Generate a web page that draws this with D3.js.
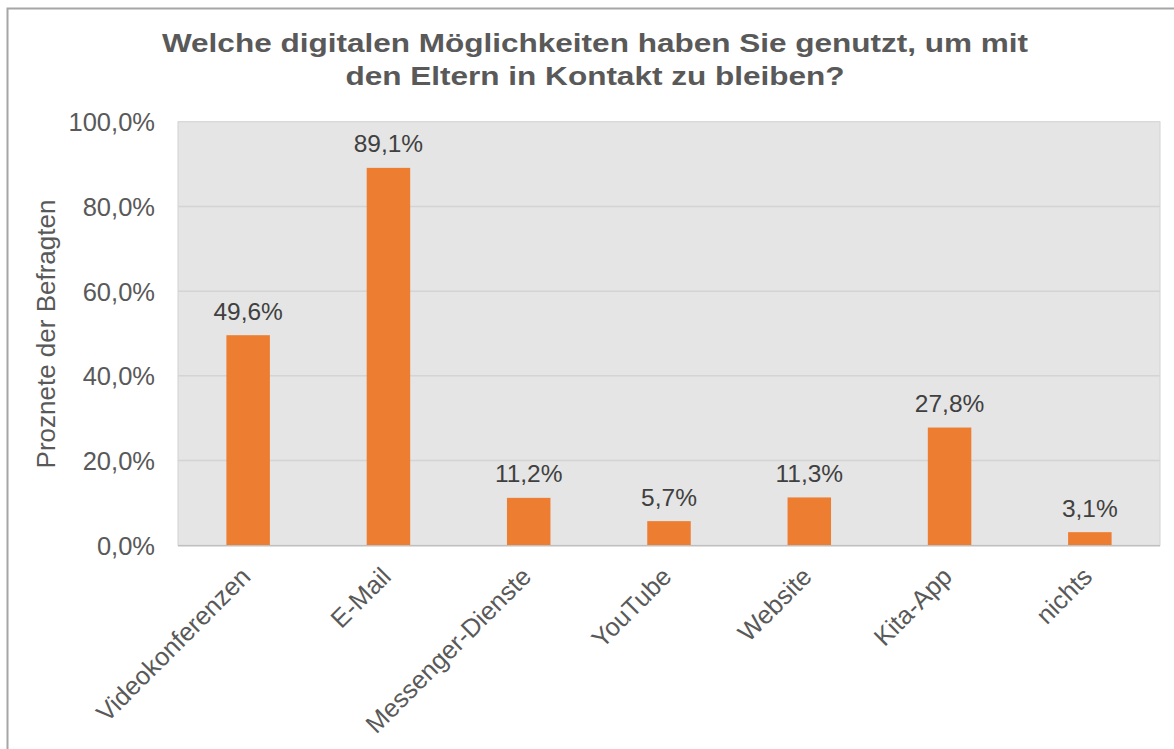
<!DOCTYPE html>
<html><head><meta charset="utf-8">
<script src="https://cdn.jsdelivr.net/npm/d3@7"></script>
<style>html,body{margin:0;padding:0;background:#fff;}svg{display:block;}</style>
</head><body>
<svg id="chart" width="1174" height="749"></svg>
<script>
const categories = ["Videokonferenzen","E-Mail","Messenger-Dienste","YouTube","Website","Kita-App","nichts"];
const values = [49.6, 89.1, 11.2, 5.7, 11.3, 27.8, 3.1];
const yTicks = [0, 20, 40, 60, 80, 100];
const titleLines = ["Welche digitalen Möglichkeiten haben Sie genutzt, um mit", "den Eltern in Kontakt zu bleiben?"];
const yAxisTitle = "Proznete der Befragten";

const svg = d3.select("#chart");
const font = "'Liberation Sans', Arial, sans-serif";
const textColor = "#595959";
const m = {left: 178, right: 1160, top: 121.7, bottom: 545.3};

// outer border
svg.append("rect").attr("x", 7.5).attr("y", 8.5).attr("width", 1180).attr("height", 760)
  .attr("fill", "#fff").attr("stroke", "#a6a6a6").attr("stroke-width", 2);

const x = d3.scaleBand().domain(categories).range([m.left, m.right]).paddingInner(0.69).paddingOuter(0.345);
const y = d3.scaleLinear().domain([0, 100]).range([m.bottom, m.top]);

// plot background
svg.append("rect").attr("x", m.left).attr("y", m.top).attr("width", m.right - m.left).attr("height", m.bottom - m.top)
  .attr("fill", "#e5e5e5").attr("stroke", "#d2d2d2").attr("stroke-width", 1);

// gridlines
svg.append("g").selectAll("line").data(yTicks.filter(d => d > 0 && d < 100)).join("line")
  .attr("x1", m.left).attr("x2", m.right).attr("y1", d => y(d)).attr("y2", d => y(d))
  .attr("stroke", "#d4d4d4").attr("stroke-width", 1.5);

// bars
svg.append("g").selectAll("rect").data(values).join("rect")
  .attr("x", (d, i) => x(categories[i])).attr("width", x.bandwidth())
  .attr("y", d => y(d)).attr("height", d => y(0) - y(d))
  .attr("fill", "#ed7d31");

// x axis line
svg.append("line").attr("x1", m.left).attr("x2", m.right).attr("y1", m.bottom + 0.5).attr("y2", m.bottom + 0.5)
  .attr("stroke", "#bfbfbf").attr("stroke-width", 1.5);

// data labels
svg.append("g").selectAll("text").data(values).join("text")
  .attr("x", (d, i) => x(categories[i]) + x.bandwidth() / 2)
  .attr("y", d => y(d) - 15.5)
  .attr("text-anchor", "middle")
  .attr("font-family", font).attr("font-size", 24.5).attr("fill", "#404040")
  .text(d => d.toFixed(1).replace(".", ",") + "%");

// y axis labels
const yAxis = d3.axisLeft(y).tickValues(yTicks).tickSize(0).tickPadding(23)
  .tickFormat(d => d.toFixed(1).replace(".", ",") + "%");
const gy = svg.append("g").attr("transform", `translate(${m.left},0)`).call(yAxis);
gy.select(".domain").remove();
gy.selectAll("text").attr("font-family", font).attr("font-size", 25.5).attr("fill", textColor).attr("dy", "0.35em");

// x axis labels
const xAxis = d3.axisBottom(x).tickSize(0).tickPadding(0);
const gx = svg.append("g").attr("transform", `translate(0,${m.bottom})`).call(xAxis);
gx.select(".domain").remove();
gx.selectAll("text")
  .attr("font-family", font).attr("font-size", 25.5).attr("fill", textColor)
  .attr("text-anchor", "end").attr("dy", null).attr("y", 0)
  .attr("transform", "translate(4,33) rotate(-45)");

// y axis title
svg.append("text").attr("transform", `translate(55,334) rotate(-90)`)
  .attr("text-anchor", "middle").attr("font-family", font).attr("font-size", 26).attr("fill", textColor)
  .text(yAxisTitle);

// title
svg.append("g").selectAll("text").data(titleLines).join("text")
  .attr("transform", (d, i) => `translate(595,${52 + i * 33}) scale(1.19,1)`)
  .attr("text-anchor", "middle").attr("font-family", font).attr("font-weight", "bold")
  .attr("font-size", 26.5).attr("fill", textColor)
  .text(d => d);
</script>
</body></html>
